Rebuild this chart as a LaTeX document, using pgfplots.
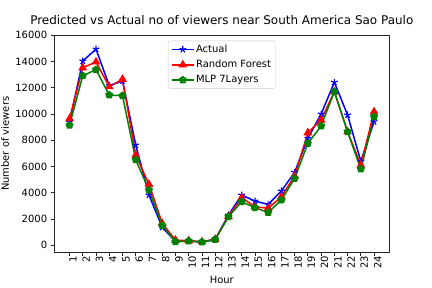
\documentclass[border=0pt]{standalone}
\usepackage{pgfplots}
\pgfplotsset{compat=1.18}
\usepackage{fontspec}
\setmainfont{DejaVu Sans}

\definecolor{mplgreen}{rgb}{0,0.5,0}
\definecolor{legframe}{gray}{0.8}
\definecolor{spine}{gray}{0.15}

% Hourly viewer counts (hour, value)
\pgfplotstableread{
hour actual rf mlp
1  9400  9650  9150
2  14040 13530 12920
3  14950 13970 13380
4  12160 12090 11450
5  12520 12650 11400
6  7640  6880  6520
7  3830  4650  4210
8  1370  1680  1520
9  300   400   270
10 330   350   330
11 250   280   250
12 450   460   450
13 2300  2200  2180
14 3830  3630  3320
15 3370  2940  2870
16 3120  2820  2510
17 4140  3700  3450
18 5560  5280  5100
19 8150  8580  7770
20 10000 9550  9090
21 12420 11700 11700
22 9930  8660  8650
23 6400  6120  5810
24 9420  10180 9800
}\viewers

\begin{document}
\begin{tikzpicture}
\useasboundingbox (-54.3bp,-35.7bp) rectangle (377.7bp,252.3bp);
\begin{axis}[
  at={(0,0)}, anchor=south west,
  scale only axis,
  width=335bp, height=217bp,
  xmin=-0.15, xmax=25.15,
  ymin=-530, ymax=16000,
  xtick={1,...,24},
  ytick={0,2000,...,16000},
  scaled y ticks=false,
  /pgf/number format/set thousands separator={},
  /pgf/number format/assume math mode=true,
  tick align=outside,
  major tick length=3.5bp,
  tick style={spine, line width=0.8bp},
  axis line style={spine, line width=0.8bp},
  ticklabel style={font=\fontsize{10}{12}\selectfont},
  xticklabel style={rotate=90, anchor=east, inner sep=0pt, xshift=0pt, yshift=-3.5bp},
  yticklabel style={anchor=east, inner sep=0pt, xshift=-3.5bp},
  xtick pos=bottom, ytick pos=left,
  title={Predicted vs Actual no of viewers near South America Sao Paulo},
  title style={at={(axis description cs:0.5,1.0)}, anchor=south, yshift=3bp, font=\fontsize{12}{14}\selectfont, inner sep=1pt},
  xlabel={Hour},
  ylabel={Number of viewers},
  every axis x label/.style={at={(axis description cs:0.5,-0.129)}, anchor=center, font=\fontsize{10}{12}\selectfont},
  every axis y label/.style={at={(axis description cs:-0.147,0.5)}, rotate=90, anchor=center, font=\fontsize{10}{12}\selectfont},
  legend style={
    at={(axis description cs:0.5,0.975)}, anchor=north,
    draw=legframe, rounded corners=2bp, fill=white, fill opacity=0.8, text opacity=1,
    font=\fontsize{10}{12}\selectfont, inner xsep=3bp, inner ysep=2.5bp,
    row sep=3.3bp, cells={anchor=west},
    nodes={inner sep=1.5bp}
  },
  legend image code/.code={
    \draw[mark repeat=2, mark phase=2] plot coordinates {(0bp,0bp) (11bp,0bp) (22bp,0bp)};
  },
]
\addplot[blue, line width=1.5bp, mark=star, mark size=3.5bp, mark options={line width=1.2bp, solid}] table[x=hour, y=actual] {\viewers};
\addlegendentry{Actual}
\addplot[red, line width=1.5bp, mark=triangle*, mark size=3.6bp, mark options={solid}] table[x=hour, y=rf] {\viewers};
\addlegendentry{Random Forest}
\addplot[mplgreen, line width=1.5bp, mark=pentagon*, mark size=3.3bp, mark options={solid}] table[x=hour, y=mlp] {\viewers};
\addlegendentry{MLP 7Layers}
\end{axis}
\end{tikzpicture}
\end{document}
